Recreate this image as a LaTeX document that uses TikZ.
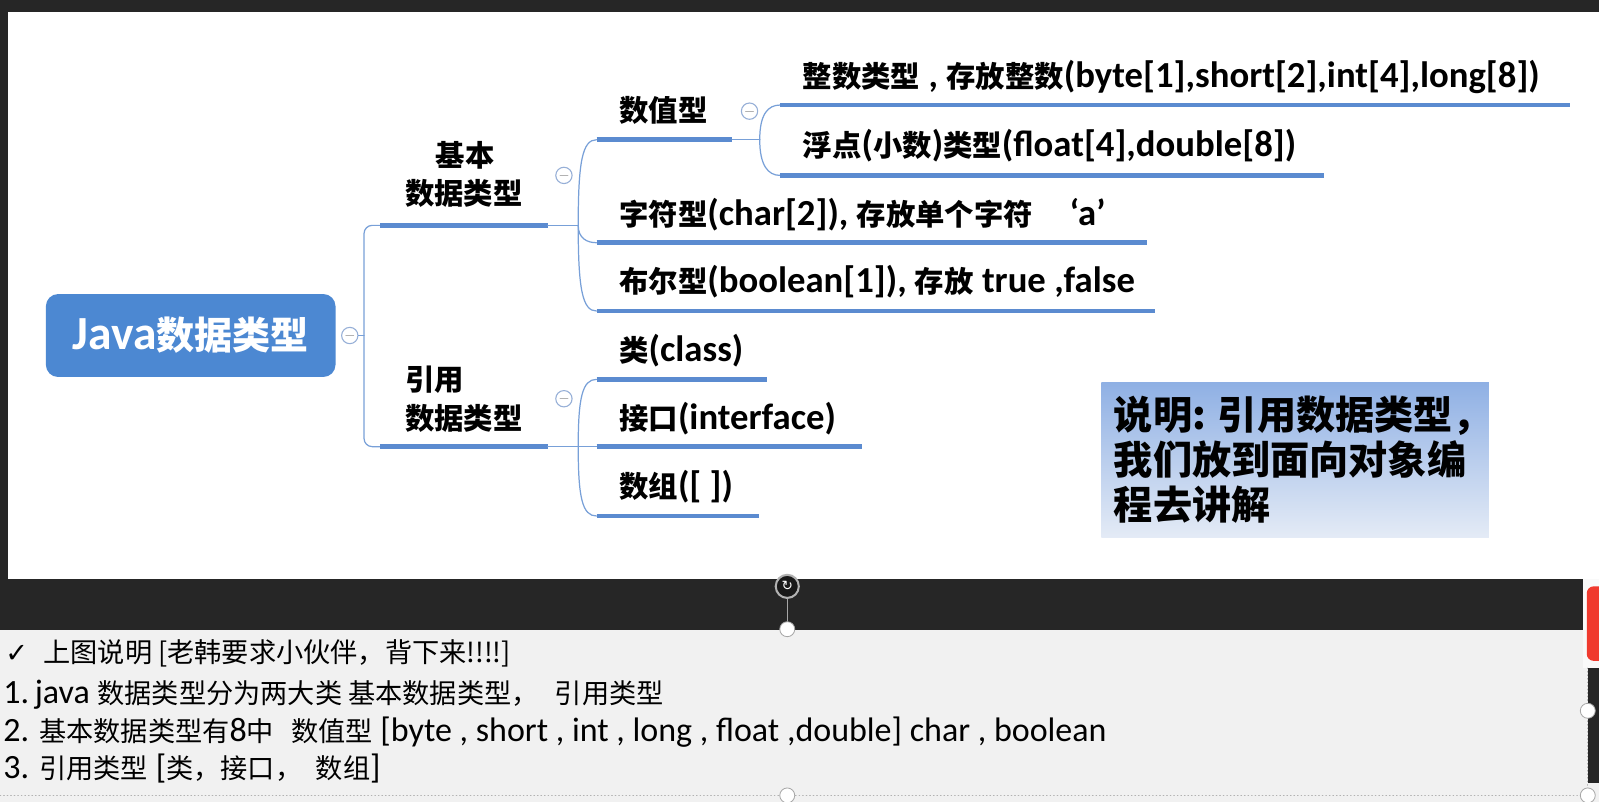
\documentclass[tikz,border=0pt]{standalone}
\usepackage{fontspec}
\setmainfont{Carlito}
\newfontfamily\cjkfont{Noto Sans CJK SC}[Scale=0.8]
\newfontfamily\symfont{DejaVu Sans}
\newcommand\zhs[1]{{\cjkfont #1}}
\definecolor{bgdark}{RGB}{38,38,38}
\definecolor{boxgray}{RGB}{241,241,241}
\definecolor{rootblue}{RGB}{76,136,210}
\definecolor{barblue}{RGB}{91,139,208}
\definecolor{linkblue}{RGB}{120,160,216}
\definecolor{foldblue}{RGB}{150,175,215}
\definecolor{notetop}{RGB}{143,176,228}
\definecolor{notebot}{RGB}{228,235,246}
\definecolor{tabred}{RGB}{240,58,46}

\begin{document}
\begin{tikzpicture}[x=0.75pt,y=-0.75pt, line cap=round, line join=round]

\tikzset{
  root/.style={fill=rootblue, rounded corners=9pt, minimum width=213pt, minimum height=61pt, inner sep=0pt, text=white, font=\bfseries\fontsize{35}{38}\selectfont},
  lbl/.style={inner sep=0pt, anchor=base west, font=\bfseries\fontsize{27}{30}\selectfont},
  bar/.style={draw=barblue, line width=3.6pt, line cap=butt},
  link/.style={draw=linkblue, line width=0.9pt},
  fold/.style={circle, draw=foldblue, fill=white, line width=0.8pt, minimum size=12pt, inner sep=0pt,
    path picture={\draw[gray!60, line width=0.9pt] ([xshift=-2.8pt]path picture bounding box.center) -- ([xshift=2.8pt]path picture bounding box.center);}},
  notebox/.style={top color=notetop, bottom color=notebot, minimum width=285pt, minimum height=114pt, inner sep=0pt},
  notetext/.style={inner sep=0pt, align=left, font=\bfseries\cjkfont\fontsize{36}{33}\selectfont},
  btext/.style={inner sep=0pt, anchor=base west, font=\fontsize{25}{28}\selectfont},
  handle/.style={circle, draw=gray!70, fill=white, line width=0.6pt, minimum size=11pt, inner sep=0pt}
}

\useasboundingbox (0,0) rectangle (1568,786);

% slide background
\fill[bgdark] (0,0) rectangle (1568,786);
\fill[white] (8,12) rectangle (1568,568);
\fill[boxgray] (0,618) rectangle (1568,786);
\fill[white!95!gray] (1552,568) rectangle (1568,655);
\fill[bgdark] (1557,655) rectangle (1568,768);
\fill[tabred, rounded corners=5pt] (1556,575) rectangle (1580,648);

% root
\node[root] (java) at (187,329) {Java\zhs{数据类型}};
\node[fold] (f0) at (343,329) {};
\coordinate (j0) at (357,329);

% first level
\coordinate (jbL) at (373,221); \coordinate (jbR) at (537,221);
\coordinate (yyL) at (373,438); \coordinate (yyR) at (537,438);
\draw[link] (f0) -- (j0);
\draw[link, rounded corners=6pt] (jbL) -| (j0) |- (yyL);
\draw[bar] (jbL) -- (jbR);
\draw[bar] (yyL) -- (yyR);
\node[lbl, anchor=base] (jbtop) at (456,163) {\zhs{基本}};
\node[lbl] (jbbot) at (397,201) {\zhs{数据类型}};
\node[lbl] (yytop) at (397,383) {\zhs{引用}};
\node[lbl] (yybot) at (397,421) {\zhs{数据类型}};
\node[fold] (f1) at (553,172) {};
\node[fold] (f2) at (553,391) {};

% basic types
\coordinate (jbJ) at (567,221);
\coordinate (szL) at (585,137); \coordinate (szR) at (718,137);
\coordinate (zfL) at (585,238); \coordinate (zfR) at (1125,238);
\coordinate (beL) at (585,305); \coordinate (beR) at (1133,305);
\draw[link] (jbR) -- (jbJ);
\draw[link] (jbJ) .. controls +(0,-62) and +(-14,0) .. (szL);
\draw[link] (jbJ) .. controls +(0,13) and +(-9,0) .. (zfL);
\draw[link] (jbJ) .. controls +(0,62) and +(-14,0) .. (beL);
\draw[bar] (szL) -- (szR);
\draw[bar] (zfL) -- (zfR);
\draw[bar] (beL) -- (beR);
\node[lbl] (sz) at (607,119) {\zhs{数值型}};
\node[lbl] (zf) at (607,221) {\zhs{字符型}(char[2]), \zhs{存放单个字符}\hspace{1em}‘a’};
\node[lbl] (be) at (607,287) {\zhs{布尔型}(boolean[1]), \zhs{存放} true ,false};
\node[fold] (f3) at (735,109) {};

% numeric types
\coordinate (szJ) at (745,137);
\coordinate (zsL) at (765,103); \coordinate (zsR) at (1540,103);
\coordinate (fdL) at (765,172); \coordinate (fdR) at (1298,172);
\draw[link] (szR) -- (szJ);
\draw[link] (szJ) .. controls +(0,-25) and +(-12,0) .. (zsL);
\draw[link] (szJ) .. controls +(0,25) and +(-12,0) .. (fdL);
\draw[bar] (zsL) -- (zsR);
\draw[bar] (fdL) -- (fdR);
\node[lbl] (zs) at (787,86) {\zhs{整数类型} , \zhs{存放整数}(byte[1],short[2],int[4],long[8])};
\node[lbl] (fd) at (787,153) {\zhs{浮点}(\zhs{小数})\zhs{类型}(float[4],double[8])};

% reference types
\coordinate (yyJ) at (567,438);
\coordinate (leiL) at (585,372); \coordinate (leiR) at (752,372);
\coordinate (jkL) at (585,438); \coordinate (jkR) at (845,438);
\coordinate (szuL) at (585,506); \coordinate (szuR) at (744,506);
\draw[link] (yyR) -- (yyJ);
\draw[link] (yyJ) .. controls +(0,-48) and +(-14,0) .. (leiL);
\draw[link] (yyJ) -- (jkL);
\draw[link] (yyJ) .. controls +(0,50) and +(-14,0) .. (szuL);
\draw[bar] (leiL) -- (leiR);
\draw[bar] (jkL) -- (jkR);
\draw[bar] (szuL) -- (szuR);
\node[lbl] (lei) at (607,354) {\zhs{类}(class)};
\node[lbl] (jk) at (607,421) {\zhs{接口}(interface)};
\node[lbl] (szu) at (607,488) {\zhs{数组}([ ])};

% note
\node[notebox] (note) at (1270,451) {};
\node[notetext, anchor=north west] (notetxt) at (1092,388) {说明: 引用数据类型，\\我们放到面向对象编\\程去讲解};

% text box below
\node[btext] (t1) at (5,650) {{\symfont\fontsize{20}{24}\selectfont ✓}\hspace{0.45em}\zhs{上图说明 [老韩要求小伙伴，背下来!!!!]}};
\node[btext] (t2) at (3,690) {1.\,java \zhs{数据类型分为两大类 基本数据类型，\hspace{0.6em}引用类型}};
\node[btext] (t3) at (3,727) {2. \zhs{基本数据类型有}8\zhs{中}\hspace{0.5em}\zhs{数值型} [byte , short , int , long , float ,double] char , boolean};
\node[btext] (t4) at (3,763) {3. \zhs{引用类型} [\zhs{类，接口，\hspace{0.5em}数组}]};

% selection handles
\draw[gray!60, dotted, line width=0.6pt] (0,780) -- (1557,780) -- (1557,655);
\node[circle, fill=gray!20!black, draw=gray!60, line width=1.5pt, minimum size=17pt, inner sep=0pt, text=white, font=\symfont\fontsize{10}{10}\selectfont] (rot) at (772,575) {↻};
\node[handle] (h1) at (772,617) {};
\draw[gray!70, line width=0.6pt] (rot) -- (h1);
\node[handle] (h2) at (772,780) {};
\node[handle] (h3) at (1557,697) {};
\node[handle] (h4) at (1557,780) {};

\end{tikzpicture}
\end{document}
